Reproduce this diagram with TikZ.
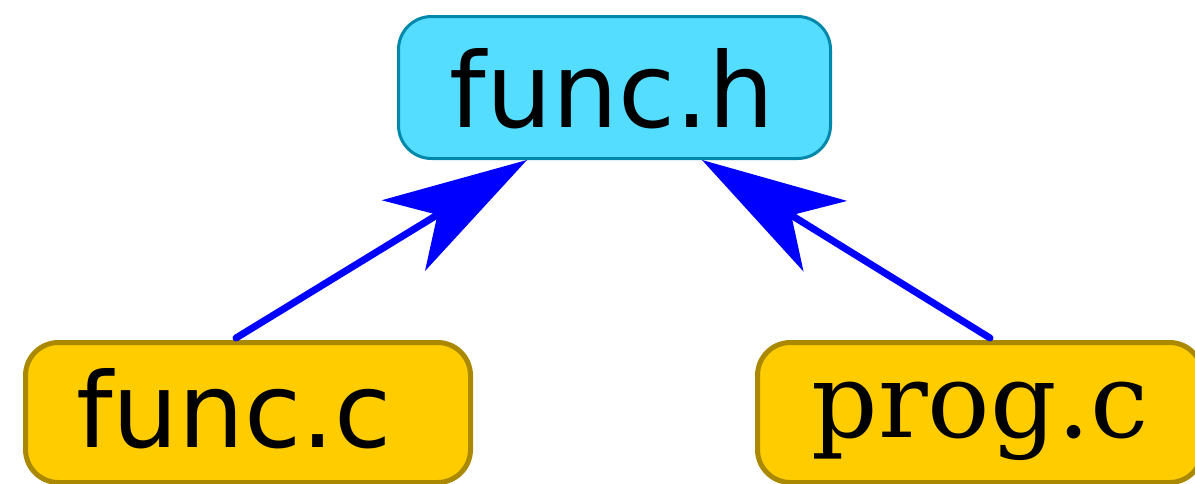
\documentclass[tikz,border=0pt]{standalone}
\usepackage{fontspec}
\setmainfont{DejaVu Sans}
\newfontfamily\serifface{DejaVu Serif}
\usetikzlibrary{arrows.meta}
\definecolor{hfill}{HTML}{55DDFF}
\definecolor{hline}{HTML}{0088AA}
\definecolor{cfill}{HTML}{FFCC00}
\definecolor{cline}{HTML}{AA8800}
\tikzset{
  headerbox/.style={draw=hline, fill=hfill, line width=3pt, rounded corners=33pt,
    minimum width=432pt, minimum height=142pt, inner sep=0pt},
  sourcebox/.style={draw=cline, fill=cfill, line width=5pt, rounded corners=33pt,
    minimum width=445pt, minimum height=140pt, inner sep=0pt},
  filename/.style={inner sep=0pt, anchor=base, font=\fontsize{104}{110}\selectfont},
  include/.style={draw=blue, line width=7pt, line cap=round,
    -{Stealth[length=145pt, width=83pt, inset=40pt, line width=0pt]}}
}
\begin{document}
\begin{tikzpicture}[x=1pt, y=-1pt]
  \clip (0,0) rectangle (1195,483);
  % boxes
  \node[headerbox] (fh) at (614.5,87.5) {};
  \node[sourcebox] (fc) at (248,412.5) {};
  \node[sourcebox] (pc) at (980,412.5) {};
  % labels
  \node[filename] (fhtext) at (612,127) {func.h};
  \node[filename] (fctext) at (234,447) {func.c};
  \node[filename, font=\fontsize{104}{110}\serifface] (pctext) at (980,437) {prog.c};
  % include arrows
  \draw[include] ([xshift=-12pt, yshift=2pt]fc.north) -- ([xshift=-87.5pt]fh.south);
  \draw[include] ([xshift=10pt, yshift=2pt]pc.north) -- ([xshift=87.5pt]fh.south);
\end{tikzpicture}
\end{document}
